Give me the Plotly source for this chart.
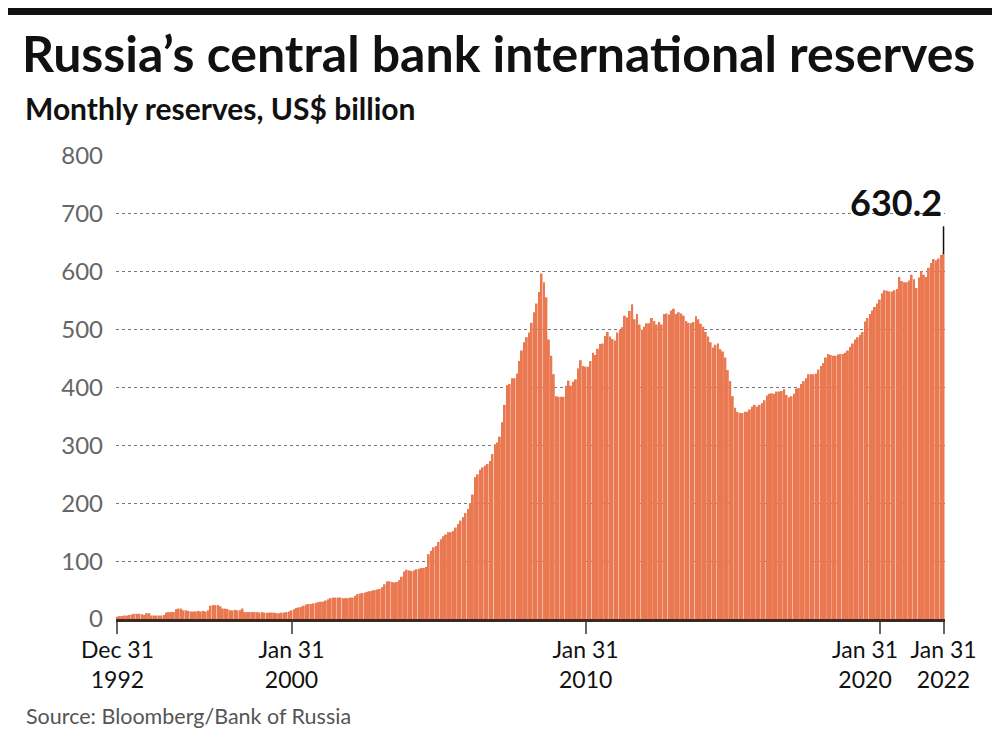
import plotly.graph_objects as go

# Monthly reserves (US$ billion), one value per bar
reserves_1993_1999 = [
    4, 5, 5, 6, 6, 7, 8, 9, 9, 9, 8, 7, 10, 10, 6, 6, 6, 6, 6, 7,
    11, 12, 12, 12, 17, 18, 18, 15, 15, 14, 13, 13, 13, 14, 13, 14, 13, 15,
    23, 24, 24, 24, 22, 18, 18, 17, 15, 15, 16, 15, 15, 18,
    12, 12, 12, 12, 12, 12, 11, 12, 11, 11, 11, 11, 11, 10, 10, 11, 11, 12, 13,
]
reserves_2000_2009 = [
    15, 17, 19, 20, 21, 23, 25, 26, 26, 27, 28, 29, 30, 30, 32, 34, 36, 37, 37, 37,
    37, 36, 36, 36, 37, 37, 40, 43, 44, 45, 46, 47, 48, 49, 50, 51, 52, 55, 60, 65,
    65, 64, 63, 64, 67, 73, 82, 85, 84, 83, 84, 86, 87, 88, 88, 90, 112, 118, 124, 126,
    133, 138, 143, 146, 150, 150, 152, 158, 164, 170, 176, 183, 190, 200, 215, 245, 250, 258, 262, 265,
    268, 273, 285, 302, 305, 315, 340, 370, 404, 406, 416, 416, 424, 446, 464, 478, 487, 495, 512, 530,
    545, 565, 597, 582, 556, 483, 455, 423, 385, 384, 384, 384, 403, 412, 403, 410, 414, 433, 447, 437,
]
reserves_2010_2019 = [
    436, 436, 446, 460, 456, 467, 475, 476, 489, 496, 488, 484, 481, 495, 500, 504, 524, 521, 532, 544,
    518, 527, 509, 500, 505, 511, 511, 520, 515, 509, 513, 509, 527, 528, 526, 533, 536, 527, 530, 528,
    524, 515, 512, 511, 513, 523, 518, 510, 505, 496, 488, 478, 469, 474, 476, 466, 462, 452, 430, 411,
    385, 365, 358, 356, 356, 358, 358, 362, 367, 370, 367, 370, 373, 378, 386, 389, 390, 389, 393, 393,
    394, 397, 387, 383, 385, 389, 398, 399, 406, 411, 416, 423, 423, 423, 424, 431, 437, 442, 452, 458,
    456, 455, 455, 457, 458, 458, 460, 464, 470, 476, 483, 487, 491, 496, 514, 520, 527, 533, 539, 545,
]
reserves_2020_2022 = [
    552, 563, 568, 567, 566, 566, 568, 570, 591, 584, 582, 582, 585, 595, 587, 572,
    590, 601, 595, 591, 607, 615, 622, 620, 623, 629, 630.2,
]
values = reserves_1993_1999 + reserves_2000_2009 + reserves_2010_2019 + reserves_2020_2022
bars = list(range(len(values)))

tick_positions = [0, len(reserves_1993_1999), len(reserves_1993_1999) + len(reserves_2000_2009),
                  len(reserves_1993_1999) + len(reserves_2000_2009) + len(reserves_2010_2019),
                  len(values) - 1]
tick_labels = ["Dec 31<br>1992", "Jan 31<br>2000", "Jan 31<br>2010", "Jan 31<br>2020", "Jan 31<br>2022"]
y_ticks = [0, 100, 200, 300, 400, 500, 600, 700, 800]

FONT = "Lato"
OFF = 8  # page body margin

PL, PR, PT, PB = 116, 945, 156, 619  # plot area in page pixels
PW, PH = PR - PL, PB - PT

fig = go.Figure(go.Bar(
    x=bars, y=values,
    marker=dict(color="#EA7850", line=dict(width=0)),
    hoverinfo="skip",
))

fig.update_layout(
    width=1000, height=745,
    margin=dict(l=PL - OFF, r=1000 - PR + OFF, t=PT - OFF, b=745 - PB + OFF),
    paper_bgcolor="white", plot_bgcolor="white",
    bargap=0.22,
    showlegend=False,
    font=dict(family=FONT, color="#222"),
    title=dict(
        text="<b>Russia’s central bank international reserves</b>",
        font=dict(family=FONT, size=50, color="#111"),
        x=(22 - OFF) / 1000, xanchor="left", xref="container",
        y=1 - (54 - OFF) / 745, yanchor="middle", yref="container",
    ),
)

# the 2020 label sits a little left of its tick in the original, so it is drawn separately
axis_ticktext = [t if i != 3 else " " for i, t in enumerate(tick_labels)]

fig.update_xaxes(
    range=[-0.6, len(values) - 0.4],
    tickmode="array", tickvals=tick_positions, ticktext=axis_ticktext,
    tickangle=0,
    ticks="outside", ticklen=12, tickcolor="#666", tickwidth=1.5,
    tickfont=dict(family=FONT, size=23, color="#111"),
    ticklabelstandoff=-4,
    showgrid=False, zeroline=False,
    showline=True, linecolor="#3b2a22", linewidth=3,
)
fig.update_yaxes(
    range=[0, 800],
    tickmode="array", tickvals=y_ticks,
    tickfont=dict(family=FONT, size=24, color="#666"),
    showgrid=True, gridcolor="#777", griddash="dot", gridwidth=1,
    zeroline=False, showline=False, ticks="",
    ticklabelstandoff=12,
)

fig.add_annotation(
    x=tick_positions[3], y=0, xref="x", yref="y",
    text=tick_labels[3], showarrow=False,
    xanchor="center", yanchor="top", xshift=-15, yshift=-14,
    font=dict(family=FONT, size=23, color="#111"),
)

# subtitle
fig.add_annotation(
    text="<b>Monthly reserves, US$ billion</b>", xref="paper", yref="paper",
    x=(23 - PL) / PW, y=(PB - 108) / PH, xanchor="left", yanchor="middle",
    showarrow=False, font=dict(family=FONT, size=30, color="#111"),
)
# source
fig.add_annotation(
    text="Source: Bloomberg/Bank of Russia", xref="paper", yref="paper",
    x=(24 - PL) / PW, y=(PB - 716) / PH, xanchor="left", yanchor="middle",
    showarrow=False, font=dict(family=FONT, size=21.5, color="#555"),
)
# last value label
fig.add_annotation(
    x=bars[-1], y=values[-1], text=f"<b>{values[-1]}</b>",
    showarrow=True, arrowhead=0, arrowwidth=1.5, arrowcolor="#111",
    ax=0, ay=-28, xanchor="right", yanchor="bottom",
    font=dict(family=FONT, size=36, color="#111"),
)
# top black band (drawn at the very top of the figure)
fig.add_shape(type="rect", xref="paper", yref="paper",
              x0=(0 - PL) / PW - 0.02, x1=(1000 - PL) / PW + 0.02,
              y0=(PB - OFF - 7) / PH, y1=(PB - OFF) / PH,
              fillcolor="#111", line=dict(width=0), layer="above")

fig.write_html("out.html")
